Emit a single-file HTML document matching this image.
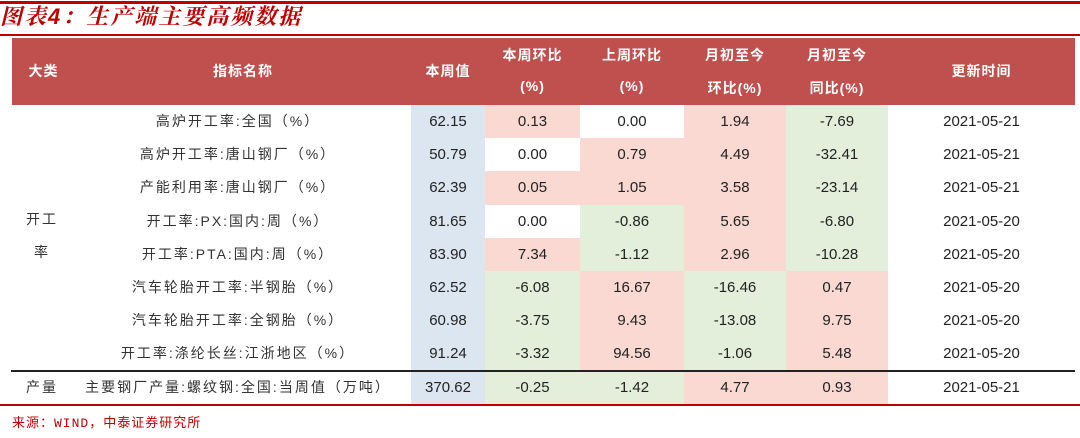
<!DOCTYPE html>
<html><head><meta charset="utf-8"><style>
body{margin:0;width:1080px;height:438px;background:#fff;position:relative;overflow:hidden;font-family:"Liberation Sans","Noto Sans CJK SC",sans-serif;}
.abs{position:absolute;}
#title{left:12px;top:3px;font-size:22px;font-weight:bold;font-style:italic;color:#c00000;font-family:"Liberation Sans","Noto Serif CJK SC",serif;letter-spacing:2px;}
.hdr{position:absolute;top:38px;height:67px;background:#c0504d;}
.ht{position:absolute;color:#fff;font-weight:bold;font-size:14px;text-align:center;letter-spacing:1px;font-family:"Liberation Sans","Noto Sans CJK SC",sans-serif;}
.cell{position:absolute;height:33.2px;line-height:33px;text-align:center;font-size:15px;color:#222;}
.nm{font-size:14px;color:#333;letter-spacing:2px;}
</style></head><body>
<div class="abs" style="left:0;top:1px;width:1080px;height:3px;background:#c00000"></div>
<div id="title">图表4：生产端主要高频数据</div>
<div class="abs" style="left:0;top:34px;width:1080px;height:2px;background:#c00000"></div>
<div class="hdr" style="left:12px;width:1063px"></div>
<div id="tbl"></div>
<div class="abs" style="left:11px;top:370px;width:1064px;height:1.5px;background:#222"></div>
<div class="abs" style="left:0;top:404px;width:1080px;height:2px;background:#c00000"></div>
<div class="abs" style="left:12px;top:412px;font-size:13px;color:#c00000;letter-spacing:1px;font-family:'Liberation Mono','Noto Sans CJK SC',monospace">来源：WIND，中泰证券研究所</div>
<script>
const names=["高炉开工率:全国（%）","高炉开工率:唐山钢厂（%）","产能利用率:唐山钢厂（%）","开工率:PX:国内:周（%）","开工率:PTA:国内:周（%）","汽车轮胎开工率:半钢胎（%）","汽车轮胎开工率:全钢胎（%）","开工率:涤纶长丝:江浙地区（%）","主要钢厂产量:螺纹钢:全国:当周值（万吨）"];
const thisWeek=["62.15","50.79","62.39","81.65","83.90","62.52","60.98","91.24","370.62"];
const wow=["0.13","0.00","0.05","0.00","7.34","-6.08","-3.75","-3.32","-0.25"];
const lastWow=["0.00","0.79","1.05","-0.86","-1.12","16.67","9.43","94.56","-1.42"];
const mtdMom=["1.94","4.49","3.58","5.65","2.96","-16.46","-13.08","-1.06","4.77"];
const mtdYoy=["-7.69","-32.41","-23.14","-6.80","-10.28","0.47","9.75","5.48","0.93"];
const dates=["2021-05-21","2021-05-21","2021-05-21","2021-05-20","2021-05-20","2021-05-20","2021-05-20","2021-05-20","2021-05-21"];
const headers=[["大类"],["指标名称"],["本周值"],["本周环比","(%)"],["上周环比","(%)"],["月初至今","环比(%)"],["月初至今","同比(%)"],["更新时间"]];
const colX=[12,75,411,485,580,684,786,888,1075];
const top0=105,rh=33.2;
const tbl=document.getElementById('tbl');
function mk(cls,l,t,w,txt,extra){const d=document.createElement('div');d.className=cls;d.style.left=l+'px';d.style.top=t+'px';d.style.width=w+'px';d.textContent=txt;if(extra)Object.assign(d.style,extra);tbl.appendChild(d);return d;}
headers.forEach((h,i)=>{const w=colX[i+1]-colX[i];
 if(h.length==1){const d=mk('ht',colX[i],61,w,h[0]);}
 else{const a=mk('ht',colX[i],45,w,h[0]);
 const b=mk('ht',colX[i],78,w,h[1]);}});
function bg(v){const n=parseFloat(v);return n>0?'#fad9d2':(n<0?'#e3efda':'#fff');}
for(let r=0;r<9;r++){const t=top0+r*rh;
 let d=mk('cell nm',colX[1]-10,t,colX[2]-colX[1]+10,names[r]);
 d=mk('cell',colX[2],t,colX[3]-colX[2],thisWeek[r],{background:'#dce6f1'});
 [wow,lastWow,mtdMom,mtdYoy].forEach((arr,k)=>{const c=k+3;const e=mk('cell',colX[c],t,colX[c+1]-colX[c],arr[r],{background:bg(arr[r])});});
 d=mk('cell',colX[7],t,colX[8]-colX[7],dates[r]);}
let g=mk('cell nm',12,203,60,'开工');
g=mk('cell nm',12,236,60,'率');
g=mk('cell nm',12,top0+8*rh,60,'产量');
</script>
</body></html>
